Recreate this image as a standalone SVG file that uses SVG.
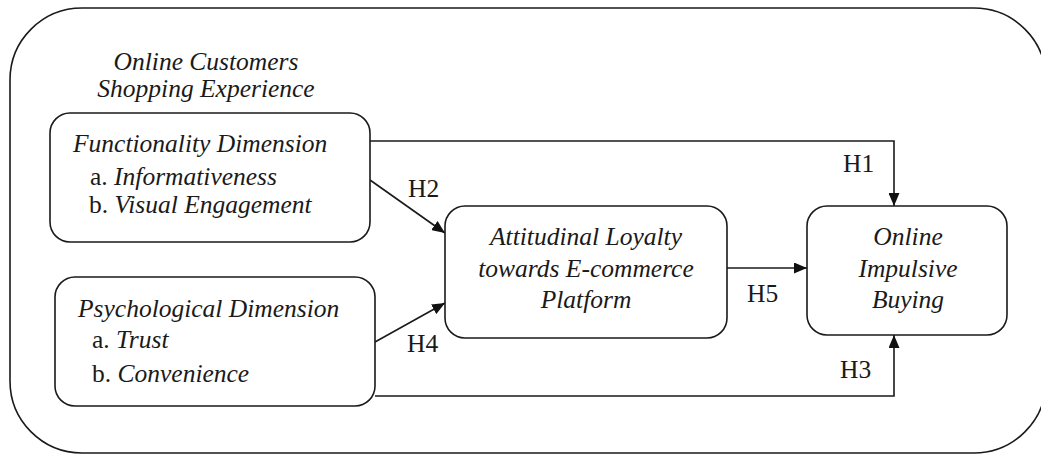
<svg xmlns="http://www.w3.org/2000/svg" width="1041" height="456" viewBox="0 0 1041 456">
<style>
.box{fill:#fff;stroke:#1a1a1a;stroke-width:1.6}
.t{font-family:"Liberation Serif","Times New Roman",serif;font-size:25.5px;fill:#1a1a1a}
.i{font-style:italic}
.c{stroke:#1a1a1a;stroke-width:1.6;fill:none}
</style>
<defs>
<marker id="ah" viewBox="0 0 13 11" refX="13" refY="5.5" markerWidth="13" markerHeight="11" markerUnits="userSpaceOnUse" orient="auto">
<path d="M0,0 L13,5.5 L0,11 Z" fill="#111"/>
</marker>
</defs>
<rect width="1041" height="456" fill="#fff"/>
<g id="frame">
<rect class="box" x="10" y="8" width="1036" height="445" rx="72" ry="72"/>
<text class="t i" x="206" y="70" text-anchor="middle">Online Customers</text>
<text class="t i" x="206" y="97" text-anchor="middle">Shopping Experience</text>
</g>
<g id="connectors">
<path class="c" d="M370,141 H894 V206" marker-end="url(#ah)"/>
<path class="c" d="M375,396 H894 V335" marker-end="url(#ah)"/>
<path class="c" d="M370,180 L445,233" marker-end="url(#ah)"/>
<path class="c" d="M375,342 L445,303" marker-end="url(#ah)"/>
<path class="c" d="M727,268 H807" marker-end="url(#ah)"/>
<text class="t" x="843" y="172">H1</text>
<text class="t" x="408" y="197">H2</text>
<text class="t" x="840" y="378">H3</text>
<text class="t" x="407" y="352">H4</text>
<text class="t" x="747" y="302">H5</text>
</g>
<g id="functionality">
<rect class="box" x="50" y="113" width="320" height="129" rx="20" ry="20"/>
<text class="t i" x="73" y="152">Functionality Dimension</text>
<text class="t" x="90" y="185">a. <tspan class="i">Informativeness</tspan></text>
<text class="t" x="89" y="213">b. <tspan class="i">Visual Engagement</tspan></text>
</g>
<g id="psychological">
<rect class="box" x="55" y="277" width="320" height="129" rx="20" ry="20"/>
<text class="t i" x="78" y="317">Psychological Dimension</text>
<text class="t" x="92" y="348">a. <tspan class="i">Trust</tspan></text>
<text class="t" x="92" y="382">b. <tspan class="i">Convenience</tspan></text>
</g>
<g id="loyalty">
<rect class="box" x="445" y="206" width="282" height="132" rx="20" ry="20"/>
<text class="t i" x="586" y="245" text-anchor="middle">Attitudinal Loyalty</text>
<text class="t i" x="586" y="277" text-anchor="middle">towards E-commerce</text>
<text class="t i" x="586" y="308" text-anchor="middle">Platform</text>
</g>
<g id="impulsive">
<rect class="box" x="807" y="206" width="200" height="129" rx="20" ry="20"/>
<text class="t i" x="908" y="245" text-anchor="middle">Online</text>
<text class="t i" x="908" y="277" text-anchor="middle">Impulsive</text>
<text class="t i" x="908" y="308" text-anchor="middle">Buying</text>
</g>
</svg>
